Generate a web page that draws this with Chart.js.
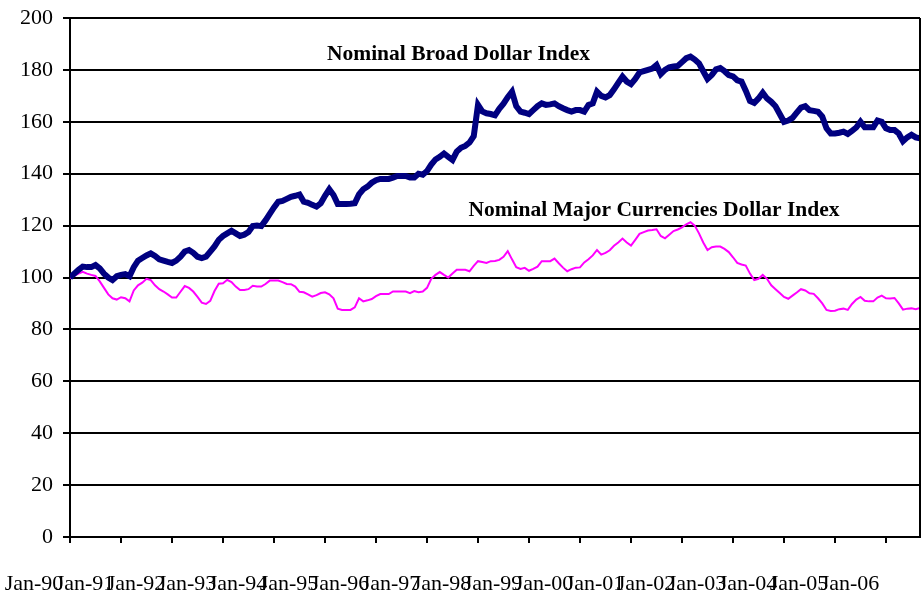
<!DOCTYPE html>
<html>
<head>
<meta charset="utf-8">
<script src="https://cdn.jsdelivr.net/npm/chart.js@4"></script>
<style>
  html, body { margin: 0; padding: 0; background: #fff; }
  #wrap { width: 921px; height: 598px; }
</style>
</head>
<body>
<div id="wrap"><canvas id="chart"></canvas></div>
<script>
// tick labels, one per January (month index 0, 12, 24 ...)
const yearLabels = ["Jan-90", "Jan-91", "Jan-92", "Jan-93", "Jan-94", "Jan-95", "Jan-96", "Jan-97",
  "Jan-98", "Jan-99", "Jan-00", "Jan-01", "Jan-02", "Jan-03", "Jan-04", "Jan-05", "Jan-06"];

// monthly values, Jan-90 .. Sep-06
const broad = [
  100, 101.5, 103, 104.2, 104, 104, 104.8, 103.5, 101.5, 100, 99, 100.5,
  101, 101.3, 100.5, 104, 106.5, 107.5, 108.5, 109.3, 108.3, 107, 106.5, 106,
  105.6, 106.5, 108, 110, 110.6, 109.5, 108, 107.5, 108, 110, 112, 114.5,
  116, 117, 118, 117, 116, 116.5, 117.5, 119.8, 120, 119.8, 122, 124.5,
  127, 129.2, 129.5, 130.3, 131.1, 131.5, 132, 129.2, 128.8, 128, 127.3, 128.6,
  131.5, 134, 131.8, 128.3, 128.3, 128.3, 128.4, 128.6, 132, 134, 135, 136.5,
  137.5, 138, 138, 138, 138.5, 139.1, 139.1, 139.1, 138.5, 138.5, 140, 139.6,
  141, 143.5, 145.5, 146.5, 147.8, 146.5, 145.3, 148.5, 150, 150.7, 152, 154.5,
  166.5, 164, 163.3, 163, 162.5, 165, 167, 169.5, 171.6, 166, 163.9, 163.5,
  163, 164.5, 166, 167.1, 166.5, 166.7, 167.1, 166, 165.2, 164.5, 163.9, 164.5,
  164.5, 163.9, 166.5, 167.1, 171.6, 170, 169.4, 170.3, 172.5, 175, 177.4, 175.5,
  174.5, 176.5, 179, 179.5, 180, 180.5, 181.9, 178.4, 180, 181, 181.3, 181.5,
  183, 184.5, 185.1, 184, 182.5, 179.5, 176.5, 178, 180.2, 180.7, 179.5, 178,
  177.5, 176, 175.5, 172, 168, 167.3, 169, 171.2, 169, 167.7, 166, 163,
  160, 160.5, 161.5, 163.5, 165.5, 166, 164.5, 164.2, 163.9, 162, 157.5, 155.5,
  155.5, 155.8, 156.2, 155.3, 156.5, 157.8, 160, 157.9, 157.9, 157.9, 160.5, 160,
  157.5, 156.8, 156.8, 155.5, 152.5, 154, 155, 154, 153.6
];

const major = [
  99.8, 100.6, 101.5, 102.2, 101.5, 101, 100.6, 98.5, 96, 93.5, 92, 91.5,
  92.4, 92, 90.8, 95, 97, 98, 99.5, 99, 97, 95.5, 94.6, 93.5,
  92.3, 92.3, 94.5, 96.7, 96, 94.6, 92.5, 90.3, 89.8, 91, 94.8, 97.6,
  97.8, 99.1, 98.2, 96.5, 95.2, 95.2, 95.5, 96.8, 96.5, 96.5, 97.5, 98.8,
  98.8, 98.8, 98.2, 97.5, 97.4, 96.5, 94.5, 94.3, 93.5, 92.6, 93.2, 94,
  94.3, 93.5, 92, 88, 87.5, 87.5, 87.5, 88.5, 92, 90.8, 91.2, 91.7,
  92.8, 93.6, 93.6, 93.6, 94.6, 94.6, 94.6, 94.6, 94, 94.8, 94.3, 94.6,
  96, 99.5, 101, 102.1, 101, 100, 101.5, 103, 103, 103, 102.4, 104.5,
  106.3, 106, 105.6, 106.3, 106.4, 106.8, 108, 110.2, 107, 104, 103.3, 103.7,
  102.6, 103.3, 104.2, 106.3, 106.3, 106.3, 107.3, 105.5, 103.8, 102.4, 103.2, 103.8,
  103.9, 105.8, 107, 108.5, 110.6, 108.8, 109.5, 110.5, 112.2, 113.5, 115, 113.5,
  112.3, 114.5, 116.8, 117.5, 118.1, 118.3, 118.6, 116, 115.1, 116.5, 117.9, 118.5,
  119.3, 120.5, 121.3, 120, 117, 113.5, 110.6, 111.7, 111.9, 111.9, 111, 109.8,
  107.8, 105.6, 105, 104.6, 101.5, 99, 99.5, 101, 99.5, 97, 95.5, 94,
  92.5, 91.8, 93, 94.2, 95.5, 95, 93.9, 93.7, 92, 90, 87.5, 87.1,
  87.2, 87.8, 88, 87.5, 89.8, 91.5, 92.5, 91, 90.8, 90.8, 92.3, 93,
  92, 91.9, 92.1, 90, 87.6, 88, 88.1, 87.8, 88.3
];

const seriesNames = ["Nominal Broad Dollar Index", "Nominal Major Currencies Dollar Index"];

const FONT = "'Liberation Serif', 'Times New Roman', serif";

// series names are written inside the plot, near their lines
const seriesLabels = {
  id: "seriesLabels",
  afterDatasetsDraw(chart) {
    const { ctx, scales: { x, y }, chartArea } = chart;
    ctx.save();
    ctx.fillStyle = "#000";
    ctx.font = "bold 21.5px " + FONT;
    ctx.textAlign = "center";
    ctx.textBaseline = "middle";
    ctx.fillText(seriesNames[0], x.getPixelForValue(91.4), y.getPixelForValue(185.8));
    ctx.fillText(seriesNames[1], x.getPixelForValue(137.4), y.getPixelForValue(126));
    // right edge of the plot
    ctx.strokeStyle = "#000";
    ctx.lineWidth = 2;
    ctx.beginPath();
    ctx.moveTo(chartArea.right, chartArea.top);
    ctx.lineTo(chartArea.right, chartArea.bottom);
    ctx.stroke();
    ctx.restore();
  }
};

new Chart(document.getElementById("chart"), {
  type: "line",
  data: {
    datasets: [
      {
        label: seriesNames[0],
        data: broad.map((v, i) => ({ x: i, y: v })),
        borderColor: "#000080",
        borderWidth: 6,
        pointRadius: 0,
        tension: 0,
      },
      {
        label: seriesNames[1],
        data: major.map((v, i) => ({ x: i, y: v })),
        borderColor: "#ff00ff",
        borderWidth: 2,
        pointRadius: 0,
        tension: 0,
      },
    ],
  },
  options: {
    responsive: true,
    maintainAspectRatio: false,
    animation: false,
    layout: { padding: { top: 18, right: 1, left: 0, bottom: 0 } },
    plugins: {
      legend: { display: false },
      tooltip: { enabled: false },
    },
    scales: {
      x: {
        type: "linear",
        min: 0,
        max: broad.length - 1,
        afterBuildTicks: (s) => { s.ticks = yearLabels.map((_, i) => ({ value: i * 12 })); },
        afterFit: (s) => { s.height = 61; s.paddingLeft = 0; s.paddingRight = 0; },
        border: { color: "#000", width: 2 },
        grid: { drawOnChartArea: false, color: "#000", lineWidth: 2, tickLength: 6 },
        ticks: {
          autoSkip: false,
          maxRotation: 0,
          minRotation: 0,
          labelOffset: -36,
          padding: 28,
          color: "#000",
          font: { family: FONT, size: 22 },
          callback: (v) => yearLabels[Math.round(v / 12)],
        },
      },
      y: {
        min: 0,
        max: 200,
        afterFit: (s) => { s.width = 70; s.paddingTop = 0; s.paddingBottom = 0; },
        border: { color: "#000", width: 2 },
        grid: { color: "#000", lineWidth: 2, tickLength: 7 },
        ticks: {
          stepSize: 20,
          padding: 10,
          color: "#000",
          font: { family: FONT, size: 22 },
        },
      },
    },
  },
  plugins: [seriesLabels],
});
</script>
</body>
</html>
